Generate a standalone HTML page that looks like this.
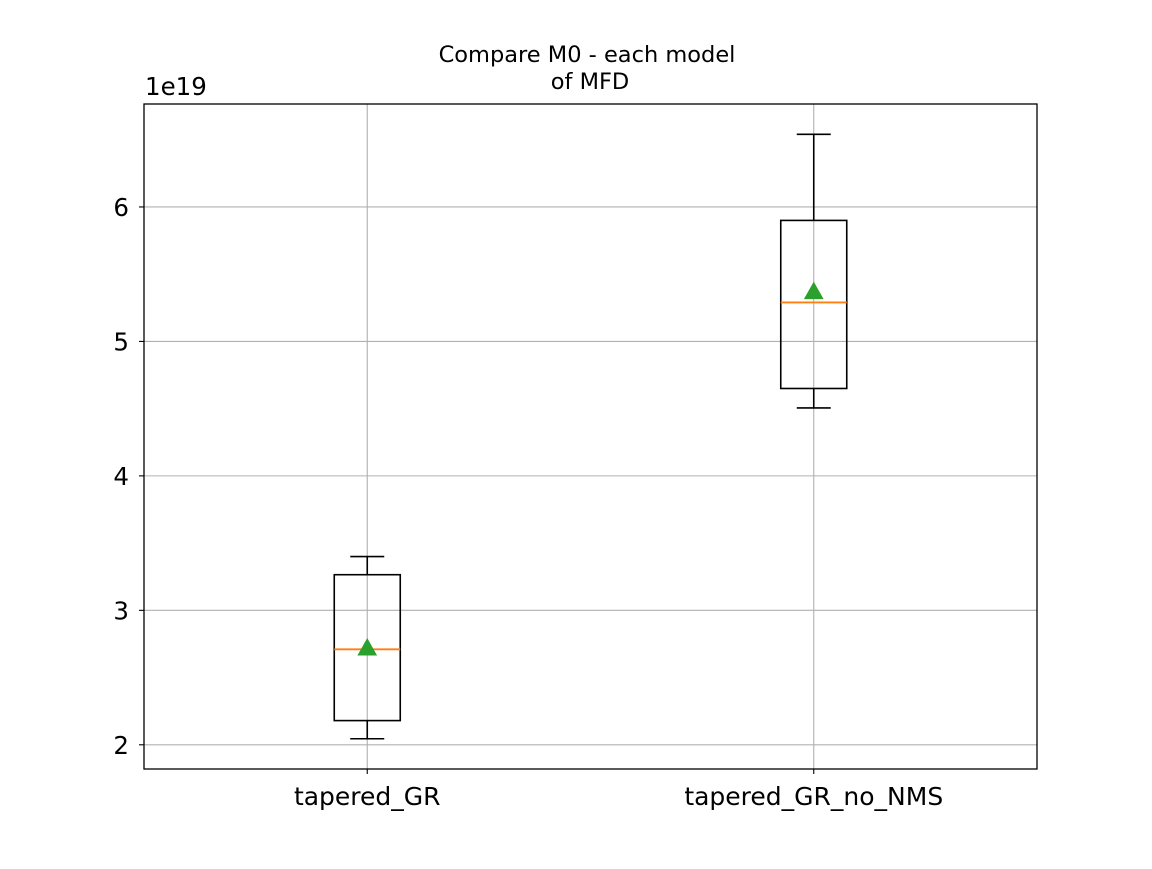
<!DOCTYPE html>
<html><head><meta charset="utf-8"><style>
body{margin:0;background:#fff;}
svg text{font-family:"DejaVu Sans","Liberation Sans",sans-serif;}
</style></head><body>
<svg id="chart" width="1152" height="864" viewBox="0 0 1152 864">
<rect x="0" y="0" width="1152" height="864" fill="#fff"/>
<g id="grid"></g>
<g id="boxes"></g>
<rect x="144" y="104" width="893" height="665" fill="none" stroke="#000" stroke-width="1.3"/>
<g id="axes"></g>
<text x="587" y="62" text-anchor="middle" font-size="22.5">Compare M0 - each model</text>
<text x="590" y="89" text-anchor="middle" font-size="22.5">of MFD</text>
<text x="145" y="95" font-size="24.5">1e19</text>
</svg>
<script>
const categories = ["tapered_GR", "tapered_GR_no_NMS"];
const whiskerLow = [2.045, 4.505];
const q1 = [2.18, 4.65];
const median = [2.71, 5.29];
const q3 = [3.265, 5.90];
const whiskerHigh = [3.40, 6.54];
const means = [2.72, 5.37];
const yTicks = [2, 3, 4, 5, 6];
const yTickLabels = ["2", "3", "4", "5", "6"];

const NS = "http://www.w3.org/2000/svg";
const L = 144, R = 1037, T = 104, B = 769;
const yMin = 1.82, yMax = 2 + 641/134.5;
function y(v){ return B - (v - yMin) / (yMax - yMin) * (B - T); }
function x(i){ return L + (i + 0.5) / categories.length * (R - L); }
function mk(tag, attrs, parent){ const e = document.createElementNS(NS, tag); for (const k in attrs) e.setAttribute(k, attrs[k]); parent.appendChild(e); return e; }
const grid = document.getElementById("grid"), boxes = document.getElementById("boxes"), axes = document.getElementById("axes");

yTicks.forEach((t, i) => {
  const yy = y(t);
  const g = mk("line", {x1: L, x2: R, y1: yy, y2: yy, stroke: "#b0b0b0", "stroke-width": 1.1}, grid);
  
  
  const tk = mk("line", {x1: L - 5, x2: L, y1: yy, y2: yy, stroke: "#000", "stroke-width": 1.1}, axes);
  
  
  const tx = mk("text", {x: L - 15, y: yy + 9, "text-anchor": "end", "font-size": 24.5}, axes);
  tx.textContent = yTickLabels[i];
  
  
});
categories.forEach((c, i) => {
  const xx = x(i);
  const g = mk("line", {x1: xx, x2: xx, y1: T, y2: B, stroke: "#b0b0b0", "stroke-width": 1.1}, grid);
  
  
  const tk = mk("line", {x1: xx, x2: xx, y1: B, y2: B + 5, stroke: "#000", "stroke-width": 1.1}, axes);
  
  
  const tx = mk("text", {x: xx, y: B + 36, "text-anchor": "middle", "font-size": 25}, axes);
  tx.textContent = c;
  
  

  const hw = 33, cw = 17;
  const st = {stroke: "#000", "stroke-width": 1.6, fill: "none"};
  const w1 = mk("line", Object.assign({x1: xx, x2: xx, y1: y(whiskerLow[i]), y2: y(q1[i])}, st), boxes);
  
  
  const w2 = mk("line", Object.assign({x1: xx, x2: xx, y1: y(q3[i]), y2: y(whiskerHigh[i])}, st), boxes);
  
  
  const c1 = mk("line", Object.assign({x1: xx - cw, x2: xx + cw, y1: y(whiskerLow[i]), y2: y(whiskerLow[i])}, st), boxes);
  
  
  const c2 = mk("line", Object.assign({x1: xx - cw, x2: xx + cw, y1: y(whiskerHigh[i]), y2: y(whiskerHigh[i])}, st), boxes);
  
  
  const bx = mk("rect", Object.assign({x: xx - hw, y: y(q3[i]), width: 2 * hw, height: y(q1[i]) - y(q3[i])}, st), boxes);
  
  
  const md = mk("line", {x1: xx - hw, x2: xx + hw, y1: y(median[i]), y2: y(median[i]), stroke: "#ff7f0e", "stroke-width": 1.8}, boxes);
  
  
  const my = y(means[i]);
  const mn = mk("polygon", {points: `${xx},${my - 9} ${xx - 9},${my + 7} ${xx + 9},${my + 7}`, fill: "#2ca02c", stroke: "#2ca02c", "stroke-width": 1}, boxes);
  
  
});
</script>
</body></html>
